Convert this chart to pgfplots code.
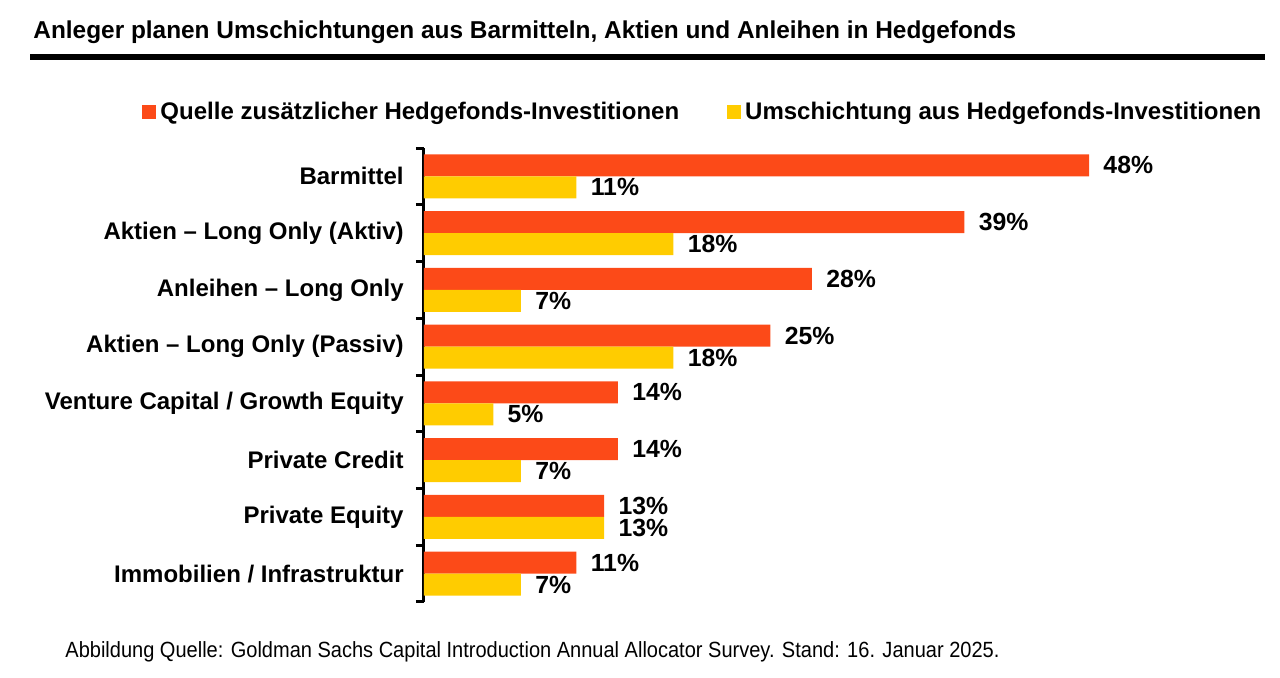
\documentclass[border=0pt]{standalone}
\usepackage{pgfplots}
\pgfplotsset{compat=1.18}
\usepackage{fontspec}
\setmainfont{Liberation Sans}
\definecolor{cOrange}{RGB}{252,74,24}
\definecolor{cYellow}{RGB}{255,204,0}
\begin{document}
\begin{tikzpicture}
\path[use as bounding box] (0,0) rectangle (640pt,339pt);
\node[anchor=west,inner sep=0pt,font=\fontsize{12.2}{14}\selectfont\bfseries] at (16.5pt,323pt) {Anleger planen Umschichtungen aus Barmitteln, Aktien und Anleihen in Hedgefonds};
\fill (15pt,309pt) rectangle (632.5pt,312pt);
\node[anchor=west,inner sep=0pt,font=\fontsize{11}{13}\selectfont] at (32.5pt,13pt) {\scalebox{0.91}[1]{Abbildung Quelle: Goldman Sachs Capital Introduction Annual Allocator Survey. Stand: 16. Januar 2025.}};
\begin{axis}[
  at={(212pt,38pt)}, anchor=south west,
  scale only axis, width=346.4pt, height=227pt,
  xbar, bar width=11pt,
  xmin=0, xmax=50,
  ymin=-0.5, ymax=7.5, y dir=reverse,
  axis x line=none,
  axis y line*=left,
  axis line style={-, line width=1.5pt},
  ytick={0,1,2,3,4,5,6,7},
  yticklabels={Barmittel, Aktien – Long Only (Aktiv), Anleihen – Long Only, Aktien – Long Only (Passiv), Venture Capital / Growth Equity, Private Credit, Private Equity, Immobilien / Infrastruktur},
  major tick length=0pt,
  minor ytick={-0.5,0.5,1.5,2.5,3.5,4.5,5.5,6.5,7.5},
  minor tick length=4pt,
  tick align=outside,
  minor tick style={line width=1.5pt, black},
  yticklabel style={font=\fontsize{12}{14}\selectfont\bfseries, inner sep=0pt, xshift=-10pt},
  /pgf/number format/assume math mode=true,
  point meta=x,
  nodes near coords={\pgfmathprintnumber{\pgfplotspointmeta}\%},
  nodes near coords style={font=\fontsize{12.4}{14}\selectfont\bfseries, anchor=west, inner sep=0pt, xshift=7pt, black},
  legend columns=2,
  legend style={draw=none, fill=none, at={(0.404,1)}, anchor=center, yshift=18pt, font=\fontsize{12}{14}\selectfont\bfseries, /tikz/every even column/.append style={column sep=22pt}},
  legend image code/.code={\fill[#1] (0pt,-3.5pt) rectangle (7pt,3.5pt);},
]
\addplot[fill=cOrange, draw=none, bar shift=5.5pt] coordinates {(48,0) (39,1) (28,2) (25,3) (14,4) (14,5) (13,6) (11,7)};
\addplot[fill=cYellow, draw=none, bar shift=-5.5pt] coordinates {(11,0) (18,1) (7,2) (18,3) (5,4) (7,5) (13,6) (7,7)};
\legend{Quelle zusätzlicher Hedgefonds-Investitionen, Umschichtung aus Hedgefonds-Investitionen}
\end{axis}
\end{tikzpicture}
\end{document}
